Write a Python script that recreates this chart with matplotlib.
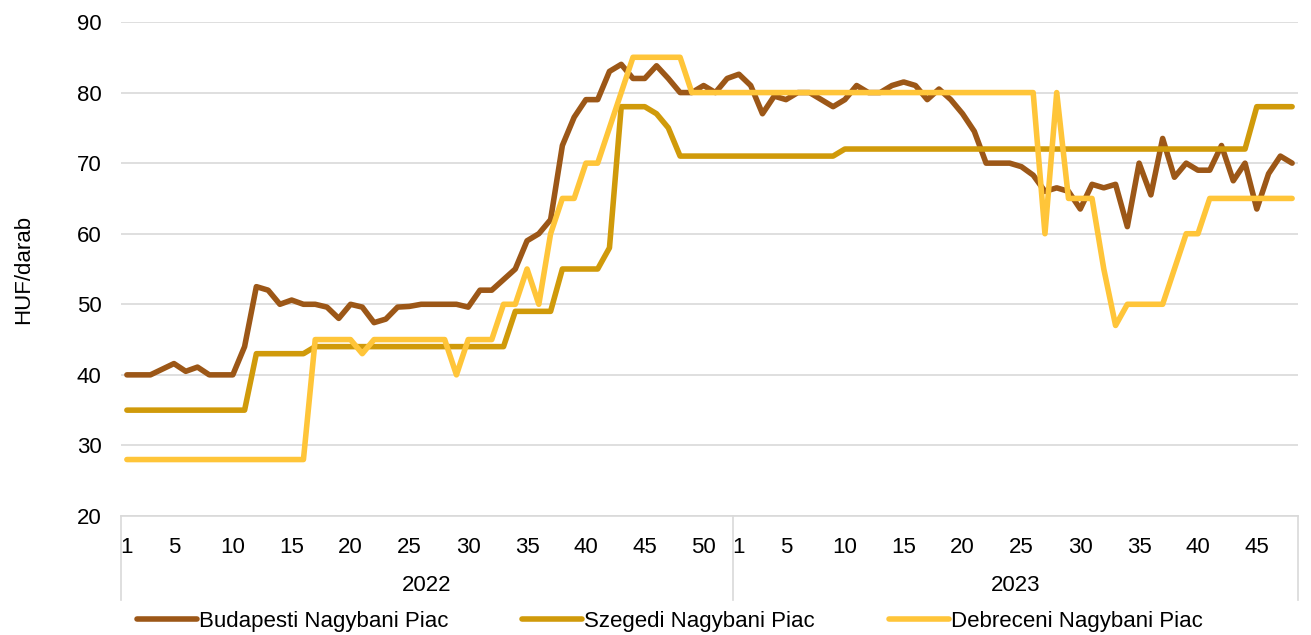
import numpy as np
import matplotlib
matplotlib.use("Agg")
import matplotlib.pyplot as plt
from matplotlib import transforms

plt.rcParams['font.family'] = ['Liberation Sans', 'DejaVu Sans']
FS = 16

# heti árak, 2022 1-52. hét + 2023 1-48. hét
budapest_2022 = [40, 40, 40, 40.8, 41.6, 40.5, 41.1, 40, 40, 40, 44, 52.5, 52, 50, 50.6, 50,
                 50, 49.6, 48, 50, 49.6, 47.4, 47.9, 49.6, 49.7, 50, 50, 50, 50, 49.6, 52, 52,
                 53.5, 55, 59, 60, 62, 72.5, 76.5, 79, 79, 83, 84, 82, 82, 83.8, 82, 80, 80, 81,
                 80, 82]
budapest_2023 = [82.6, 81, 77, 79.5, 79, 80, 80, 79, 78, 79, 81, 80, 80, 81, 81.5, 81, 79,
                 80.5, 79, 77, 74.5, 70, 70, 70, 69.5, 68.3, 66, 66.5, 66, 63.5, 67, 66.5, 67,
                 61, 70, 65.5, 73.5, 68, 70, 69, 69, 72.5, 67.5, 70, 63.5, 68.5, 71, 70]

szeged_2022 = [35] * 11 + [43] * 5 + [44] * 17 + [49] * 4 + [55] * 4 + [58] + [78] * 3 + \
              [77, 75] + [71] * 5
szeged_2023 = [71] * 9 + [72] * 35 + [78] * 4

debrecen_2022 = [28] * 16 + [45] * 4 + [43] + [45] * 7 + [40] + [45] * 3 + [50] * 2 + \
                [55, 50, 60, 65, 65, 70, 70, 75, 80] + [85] * 5 + [80] * 4
debrecen_2023 = [80] * 26 + [60, 80, 65, 65, 65, 55, 47] + [50] * 4 + [55, 60, 60] + [65] * 8

years = ['2022', '2023']
weeks_2022 = list(range(1, 53))
weeks_2023 = list(range(1, 49))
tick_weeks_2022 = [1, 5, 10, 15, 20, 25, 30, 35, 40, 45, 50]
tick_weeks_2023 = [1, 5, 10, 15, 20, 25, 30, 35, 40, 45]

series = {
    'Budapesti Nagybani Piac': (budapest_2022 + budapest_2023, '#9C5717'),
    'Szegedi Nagybani Piac': (szeged_2022 + szeged_2023, '#D09A0A'),
    'Debreceni Nagybani Piac': (debrecen_2022 + debrecen_2023, '#FFC539'),
}

n1 = len(weeks_2022)
n = n1 + len(weeks_2023)
x = np.arange(n)

fig = plt.figure(figsize=(13.11, 6.35), dpi=100)
ax = fig.add_axes([121 / 1311, 1 - 516 / 635, (1298 - 121) / 1311, (516 - 22) / 635])

for name, (vals, col) in series.items():
    ax.plot(x, vals, color=col, lw=4, label=name, solid_joinstyle='round',
            solid_capstyle='round')

ax.set_xlim(-0.5, n - 0.5)
ax.set_ylim(20, 90)
ax.set_yticks(range(20, 91, 10))
ax.grid(axis='y', color='#D9D9D9', lw=1.2)
ax.set_axisbelow(True)
for s in ['left', 'right', 'top']:
    ax.spines[s].set_visible(False)
ax.spines['bottom'].set_color('#D9D9D9')
ax.spines['bottom'].set_linewidth(1.2)

pos = [w - 1 for w in tick_weeks_2022] + [n1 + w - 1 for w in tick_weeks_2023]
lab = [str(w) for w in tick_weeks_2022] + [str(w) for w in tick_weeks_2023]
ax.set_xticks(pos)
ax.set_xticklabels(lab)
ax.tick_params(axis='x', length=0, pad=15, labelsize=FS)
ax.tick_params(axis='y', length=0, pad=14, labelsize=FS)
ax.set_ylabel('HUF/darab', fontsize=FS, labelpad=31)

# év-szint a kategória tengelyen
tr = transforms.blended_transform_factory(ax.transData, ax.transAxes)
for b in [-0.5, n1 - 0.5, n - 0.5]:
    ax.plot([b, b], [0, -0.17], transform=tr, color='#D9D9D9', lw=1.2, clip_on=False)
ax.text((n1 - 1) / 2, -0.14, years[0], transform=tr, ha='center', va='center', fontsize=FS)
ax.text(n1 + (n - n1 - 1) / 2, -0.14, years[1], transform=tr, ha='center', va='center',
        fontsize=FS)

fig.legend(loc='center', bbox_to_anchor=(0.511, 1 - 621 / 635), ncol=3, frameon=False,
           fontsize=FS, handlelength=2.7, handletextpad=0.1, columnspacing=3.3)

fig.savefig('out.png', dpi=100)
